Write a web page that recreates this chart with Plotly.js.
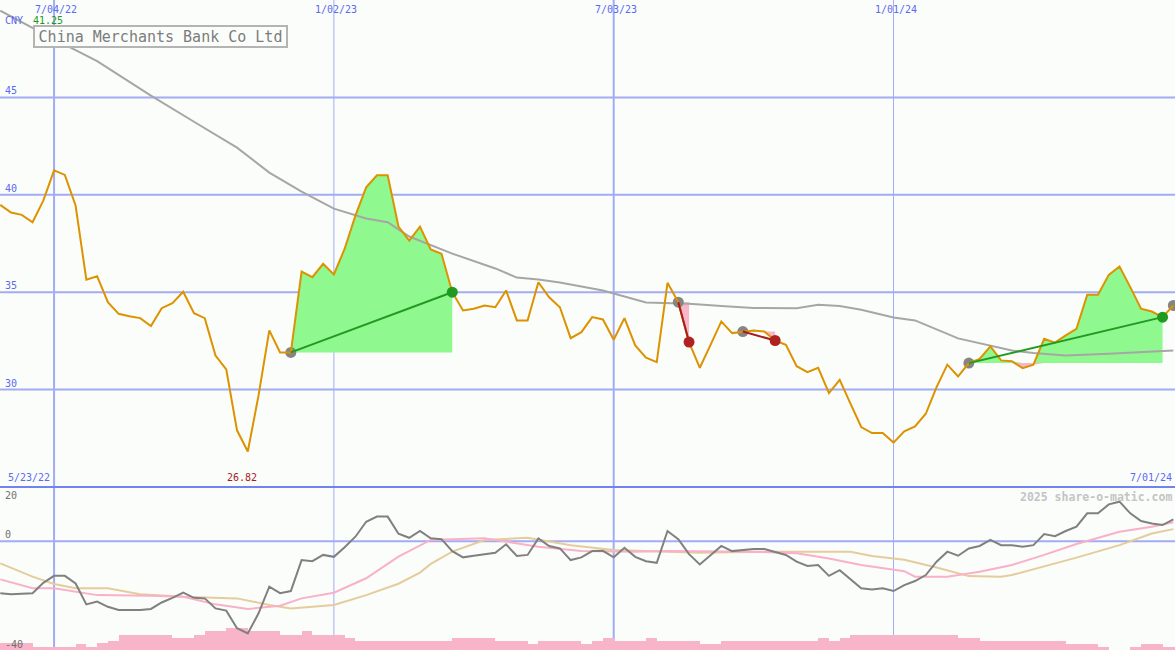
<!DOCTYPE html>
<html>
<head>
<meta charset="utf-8">
<script src="https://cdn.plot.ly/plotly-3.0.1.min.js"></script>
<style>
html,body{margin:0;padding:0;background:#fbfdfb;}
#chart{width:1175px;height:650px;}
</style>
</head>
<body>
<div id="chart"></div>
<script>
// ---------- DATA ----------
const startDate = '2022-05-30';           // first weekly observation (Monday)
const title = 'China Merchants Bank Co Ltd';
const currency = 'CNY';
const maxLabel = '41.25';
const minLabel = '26.82';
const firstDateLabel = '5/23/22';
const lastDateLabel = '7/01/24';
const credit = '2025 share-o-matic.com';

// weekly closing prices (CNY)
const price = [
  39.48, 39.09, 38.97, 38.59, 39.70, 41.25, 41.02, 39.45, 35.64, 35.82,
  34.49, 33.89, 33.77, 33.67, 33.26, 34.18, 34.44, 35.02, 33.92, 33.67,
  31.75, 31.04, 27.91, 26.82, 29.70, 33.04, 31.91, 31.91, 36.06, 35.77,
  36.46, 35.91, 37.23, 38.93, 40.38, 41.00, 41.00, 38.37, 37.65, 38.37,
  37.19, 36.97, 35.00, 34.06, 34.15, 34.32, 34.23, 35.09, 33.55, 33.55,
  35.51, 34.74, 34.23, 32.64, 32.95, 33.72, 33.60, 32.56, 33.67, 32.27,
  31.64, 31.41, 35.48, 34.49, 32.44, 31.12, 32.30, 33.50, 32.90, 32.98,
  33.03, 32.98, 32.52, 32.30, 31.20, 30.90, 31.12, 29.82, 30.50, 29.28,
  28.08, 27.77, 27.77, 27.28, 27.86, 28.11, 28.76, 30.13, 31.28, 30.68,
  31.36, 31.58, 32.22, 31.50, 31.46, 31.10, 31.28, 32.61, 32.41, 32.78,
  33.12, 34.87, 34.87, 35.89, 36.32, 35.26, 34.15, 34.01, 33.72, 34.32
];

// long moving average of price (sampled weeks)
const maWeeks  = [0, 4, 9, 14, 18, 22, 25, 28, 31, 34, 36, 38, 42, 46, 48, 50, 52, 56, 60, 64, 67, 70, 74, 76, 78, 80, 83, 85, 89, 94, 96, 99, 103, 109];
const maValues = [49.45, 48.27, 46.86, 45.09, 43.75, 42.42, 41.14, 40.16, 39.29, 38.78, 38.59, 37.86, 36.98, 36.22, 35.75, 35.65, 35.50, 35.09, 34.47, 34.41, 34.29, 34.19, 34.18, 34.35, 34.29, 34.10, 33.70, 33.55, 32.63, 32.01, 31.88, 31.75, 31.84, 32.01];

// oscillator (weekly)
const osc = [
  -19.1, -19.5, -19.3, -19.1, -15.3, -12.7, -12.7, -15.5, -23.2, -22.2,
  -24.1, -25.3, -25.3, -25.3, -24.9, -22.5, -20.8, -18.9, -20.8, -21.0,
  -24.7, -25.5, -32.0, -33.9, -26.5, -16.7, -19.1, -18.3, -6.9, -7.3,
  -5.0, -5.7, -2.2, 1.7, 7.2, 9.1, 9.1, 2.8, 1.3, 3.8,
  1.1, 0.8, -3.6, -5.9, -5.3, -4.7, -4.2, -1.1, -5.4, -5.0,
  1.1, -1.7, -2.6, -6.9, -5.9, -3.6, -3.5, -5.9, -2.4, -5.7,
  -7.3, -7.9, 3.8, 0.8, -4.7, -8.5, -5.0, -1.7, -3.6, -3.2,
  -2.8, -2.8, -3.8, -5.0, -7.5, -9.1, -8.7, -12.7, -10.6, -13.9,
  -17.3, -17.7, -17.3, -18.3, -16.1, -14.6, -12.4, -7.5, -3.8, -5.3,
  -2.6, -1.7, 0.5, -1.4, -1.4, -2.0, -1.4, 2.7, 1.9, 3.8,
  5.4, 10.3, 10.3, 13.6, 14.6, 10.3, 7.5, 6.6, 6.0, 8.1
];

// oscillator signal lines (sampled weeks)
const sigFastWeeks  = [0, 3, 5, 8, 9, 14, 17, 20, 23, 26, 28, 31, 34, 37, 40, 42, 45, 50, 54, 59, 62, 70, 74, 77, 80, 84, 85, 88, 91, 94, 97, 100, 104, 107, 109];
const sigFastValues = [-14.0, -17.3, -17.3, -19.1, -19.8, -20.0, -20.4, -23.2, -24.9, -23.7, -21.0, -18.9, -13.6, -5.6, 0.5, 0.8, 1.1, -2.0, -3.6, -3.8, -3.6, -3.8, -4.4, -6.3, -8.7, -11.0, -13.0, -13.0, -11.2, -8.7, -5.0, -1.0, 3.5, 5.4, 7.0];
const sigSlowWeeks  = [0, 3, 5, 7, 10, 13, 17, 22, 25, 27, 31, 34, 37, 39, 40, 42, 45, 49, 53, 57, 65, 71, 79, 81, 84, 87, 90, 93, 94, 97, 100, 104, 107, 109];
const sigSlowValues = [-8.1, -13.0, -15.7, -17.3, -17.3, -19.5, -20.4, -21.0, -23.4, -24.7, -23.4, -19.8, -15.6, -11.5, -8.3, -3.8, 0.5, 1.3, -1.4, -3.2, -4.2, -3.8, -3.8, -5.4, -6.8, -9.6, -12.8, -13.0, -12.4, -9.3, -6.0, -1.4, 2.9, 4.5];

// weekly volume (relative units)
const volume = [
  67, 67, 67, 27, 27, 27, 27, 60, 27, 67,
  90, 150, 150, 150, 150, 150, 123, 123, 150, 190,
  190, 217, 217, 190, 190, 190, 150, 150, 190, 150,
  150, 150, 123, 90, 90, 90, 90, 90, 90, 90,
  90, 90, 123, 123, 123, 123, 90, 90, 90, 60,
  90, 90, 90, 90, 60, 90, 123, 90, 90, 90,
  123, 90, 90, 90, 90, 60, 60, 90, 90, 90,
  90, 90, 90, 90, 90, 90, 123, 90, 123, 150,
  150, 150, 150, 150, 150, 150, 150, 150, 150, 123,
  123, 90, 90, 90, 90, 90, 90, 90, 90, 60,
  60, 60, 33, 0, 0, 33, 60, 60, 33, 33
];

// trades (entry / exit week index); null = still open
const entryWeeks = [27, 63, 69, 90, 109];
const exitWeeks  = [42, 64, 72, 108, null];

// date grid lines and their labels
const gridDates  = ['2022-07-04', '2023-01-02', '2023-07-03', '2024-01-01'];
const gridLabels = ['7/04/22', '1/02/23', '7/03/23', '1/01/24'];
const gridMajor  = [true, false, true, false];
const priceTicks = [30, 35, 40, 45];

// ---------- BUILD ----------
function wk(i) {
  const d = new Date(startDate + 'T00:00:00Z');
  d.setUTCDate(d.getUTCDate() + 7 * i);
  return d.toISOString().slice(0, 10);
}
const dates = price.map((_, i) => wk(i));

const C = {
  bg: '#fbfdfb', grid: '#a3acf2', gridDark: '#7282f0', label: '#5b6af0',
  price: '#dd9200', ma: '#a6a6a6', osc: '#808080', fast: '#f9b0c8', slow: '#e4cc9c',
  vol: '#f8b4c8', green: '#8ff88f', greenLine: '#229a22', greenDot: '#1f9a1f',
  red: '#a81c1c', redDot: '#b02222', pinkFill: '#f8b6ca', gray: '#858585'
};
const mono = "'DejaVu Sans Mono', 'Liberation Mono', monospace";

const traces = [];
// trade fills
entryWeeks.forEach((e, k) => {
  const x = exitWeeks[k];
  if (x === null) return;
  const base = price[e];
  const xs = [], bs = [], up = [], dn = [];
  for (let i = e; i <= x; i++) {
    xs.push(dates[i]); bs.push(base);
    up.push(Math.max(price[i], base));
    dn.push(Math.min(price[i], base));
  }
  const common = {type: 'scatter', mode: 'lines', x: xs, xaxis: 'x', yaxis: 'y', hoverinfo: 'skip', showlegend: false, line: {width: 0}};
  traces.push(Object.assign({}, common, {y: bs}));
  traces.push(Object.assign({}, common, {y: up, fill: 'tonexty', fillcolor: C.green}));
  traces.push(Object.assign({}, common, {y: bs}));
  traces.push(Object.assign({}, common, {y: dn, fill: 'tonexty', fillcolor: C.pinkFill}));
});
// moving average
traces.push({type: 'scatter', mode: 'lines', x: maWeeks.map(wk), y: maValues, xaxis: 'x', yaxis: 'y',
  line: {color: C.ma, width: 2}, hoverinfo: 'skip', showlegend: false});
// entry markers
traces.push({type: 'scatter', mode: 'markers', x: entryWeeks.map(wk), y: entryWeeks.map(i => price[i]), xaxis: 'x', yaxis: 'y',
  marker: {color: C.gray, size: 11, line: {width: 0}}, hoverinfo: 'skip', showlegend: false});
// price
traces.push({type: 'scatter', mode: 'lines', x: dates, y: price, xaxis: 'x', yaxis: 'y',
  line: {color: C.price, width: 2}, hoverinfo: 'skip', showlegend: false});
// trade lines + exit markers
entryWeeks.forEach((e, k) => {
  const x = exitWeeks[k];
  if (x === null) return;
  const win = price[x] >= price[e];
  traces.push({type: 'scatter', mode: 'lines', x: [dates[e], dates[x]], y: [price[e], price[x]], xaxis: 'x', yaxis: 'y',
    line: {color: win ? C.greenLine : C.red, width: 2}, hoverinfo: 'skip', showlegend: false});
  traces.push({type: 'scatter', mode: 'markers', x: [dates[x]], y: [price[x]], xaxis: 'x', yaxis: 'y',
    marker: {color: win ? C.greenDot : C.redDot, size: 11, line: {width: 0}}, hoverinfo: 'skip', showlegend: false});
});
// volume bars (lower panel, bottom)
traces.push({type: 'bar', x: dates, y: volume, xaxis: 'x', yaxis: 'y2', offset: 0, width: 7 * 864e5,
  marker: {color: C.vol, line: {width: 0}}, hoverinfo: 'skip', showlegend: false});
// oscillator lines
traces.push({type: 'scatter', mode: 'lines', x: sigSlowWeeks.map(wk), y: sigSlowValues, xaxis: 'x', yaxis: 'y3',
  line: {color: C.slow, width: 2}, hoverinfo: 'skip', showlegend: false});
traces.push({type: 'scatter', mode: 'lines', x: sigFastWeeks.map(wk), y: sigFastValues, xaxis: 'x', yaxis: 'y3',
  line: {color: C.fast, width: 2}, hoverinfo: 'skip', showlegend: false});
traces.push({type: 'scatter', mode: 'lines', x: dates, y: osc, xaxis: 'x', yaxis: 'y3',
  line: {color: C.osc, width: 2}, hoverinfo: 'skip', showlegend: false});

const split = 163 / 650;
const shapes = [];
priceTicks.forEach(v => shapes.push({type: 'line', xref: 'paper', x0: 0, x1: 1, yref: 'y', y0: v, y1: v,
  line: {color: C.grid, width: 2}, layer: 'below'}));
shapes.push({type: 'line', xref: 'paper', x0: 0, x1: 1, yref: 'y3', y0: 0, y1: 0, line: {color: C.grid, width: 2}, layer: 'below'});
gridDates.forEach((d, k) => shapes.push({type: 'line', xref: 'x', x0: d, x1: d, yref: 'paper', y0: 0, y1: 1,
  line: {color: C.grid, width: gridMajor[k] ? 2 : 1}, layer: 'below'}));
shapes.push({type: 'line', xref: 'paper', x0: 0, x1: 1, yref: 'paper', y0: split, y1: split,
  line: {color: C.gridDark, width: 2}, layer: 'above'});

const small = (color) => ({family: mono, size: 10, color: color});
const ann = [];
gridDates.forEach((d, k) => ann.push({xref: 'x', x: d, yref: 'paper', y: 1, yanchor: 'top', xanchor: 'center',
  xshift: 2, yshift: -2, text: gridLabels[k], showarrow: false, font: small(C.label)}));
priceTicks.forEach(v => ann.push({xref: 'paper', x: 0, xanchor: 'left', xshift: 3, yref: 'y', y: v, yanchor: 'bottom',
  yshift: -1, text: String(v), showarrow: false, font: small(C.label)}));
ann.push({xref: 'paper', x: 0, xanchor: 'left', xshift: 3, yref: 'y3', y: 20, yanchor: 'top', yshift: -1, text: '20', showarrow: false, font: small('#707070')});
ann.push({xref: 'paper', x: 0, xanchor: 'left', xshift: 3, yref: 'y3', y: 0, yanchor: 'bottom', yshift: -1, text: '0', showarrow: false, font: small('#707070')});
ann.push({xref: 'paper', x: 0, xanchor: 'left', xshift: 3, yref: 'y3', y: -40, yanchor: 'bottom', yshift: -2, text: '-40', showarrow: false, font: small('#707070')});
ann.push({xref: 'paper', x: 0, xanchor: 'left', xshift: 3, yref: 'paper', y: 1, yanchor: 'top', yshift: -13, text: currency, showarrow: false, font: small(C.label)});
ann.push({xref: 'paper', x: 0, xanchor: 'left', xshift: 31, yref: 'paper', y: 1, yanchor: 'top', yshift: -13, text: maxLabel, showarrow: false, font: small('#1a9a1a')});
ann.push({xref: 'paper', x: 0, xanchor: 'left', xshift: 6, yref: 'paper', y: split, yanchor: 'bottom', yshift: 2, text: firstDateLabel, showarrow: false, font: small(C.label)});
ann.push({xref: 'x', x: dates[price.indexOf(Math.min(...price))], xanchor: 'right', xshift: 11, yref: 'paper', y: split, yanchor: 'bottom', yshift: 2, text: minLabel, showarrow: false, font: small('#a81c1c')});
ann.push({xref: 'paper', x: 1, xanchor: 'right', xshift: -1, yref: 'paper', y: split, yanchor: 'bottom', yshift: 2, text: lastDateLabel, showarrow: false, font: small(C.label)});
ann.push({xref: 'paper', x: 1, xanchor: 'right', xshift: -1, yref: 'paper', y: split, yanchor: 'top', yshift: -1, text: '<b>' + credit + '</b>', showarrow: false, font: {family: mono, size: 11.5, color: '#c4c4c4'}});
ann.push({xref: 'paper', x: 33 / 1175, xanchor: 'left', yref: 'paper', y: 1 - 25 / 650, yanchor: 'top', text: title, showarrow: false,
  font: {family: mono, size: 15, color: '#7c7c7c'}, bgcolor: C.bg, bordercolor: '#b4b4b4', borderwidth: 2, borderpad: 0, width: 251, height: 19});

const layout = {
  width: 1175, height: 650,
  margin: {l: 0, r: 0, t: 0, b: 0, pad: 0},
  paper_bgcolor: C.bg, plot_bgcolor: C.bg,
  showlegend: false, bargap: 0,
  xaxis: {type: 'date', range: ['2022-05-29 20:00', '2024-07-02 02:00'], showgrid: false, zeroline: false, showticklabels: false, ticks: '', showline: false, fixedrange: true},
  yaxis: {domain: [split, 1], range: [25, 50], showgrid: false, zeroline: false, showticklabels: false, ticks: '', fixedrange: true},
  yaxis2: {domain: [0, split], range: [0, 1630], showgrid: false, zeroline: false, showticklabels: false, ticks: '', fixedrange: true},
  yaxis3: {overlaying: 'y2', range: [-40, 20], showgrid: false, zeroline: false, showticklabels: false, ticks: '', fixedrange: true},
  shapes: shapes,
  annotations: ann
};
Plotly.newPlot('chart', traces, layout, {displayModeBar: false, staticPlot: true});
</script>
</body>
</html>
